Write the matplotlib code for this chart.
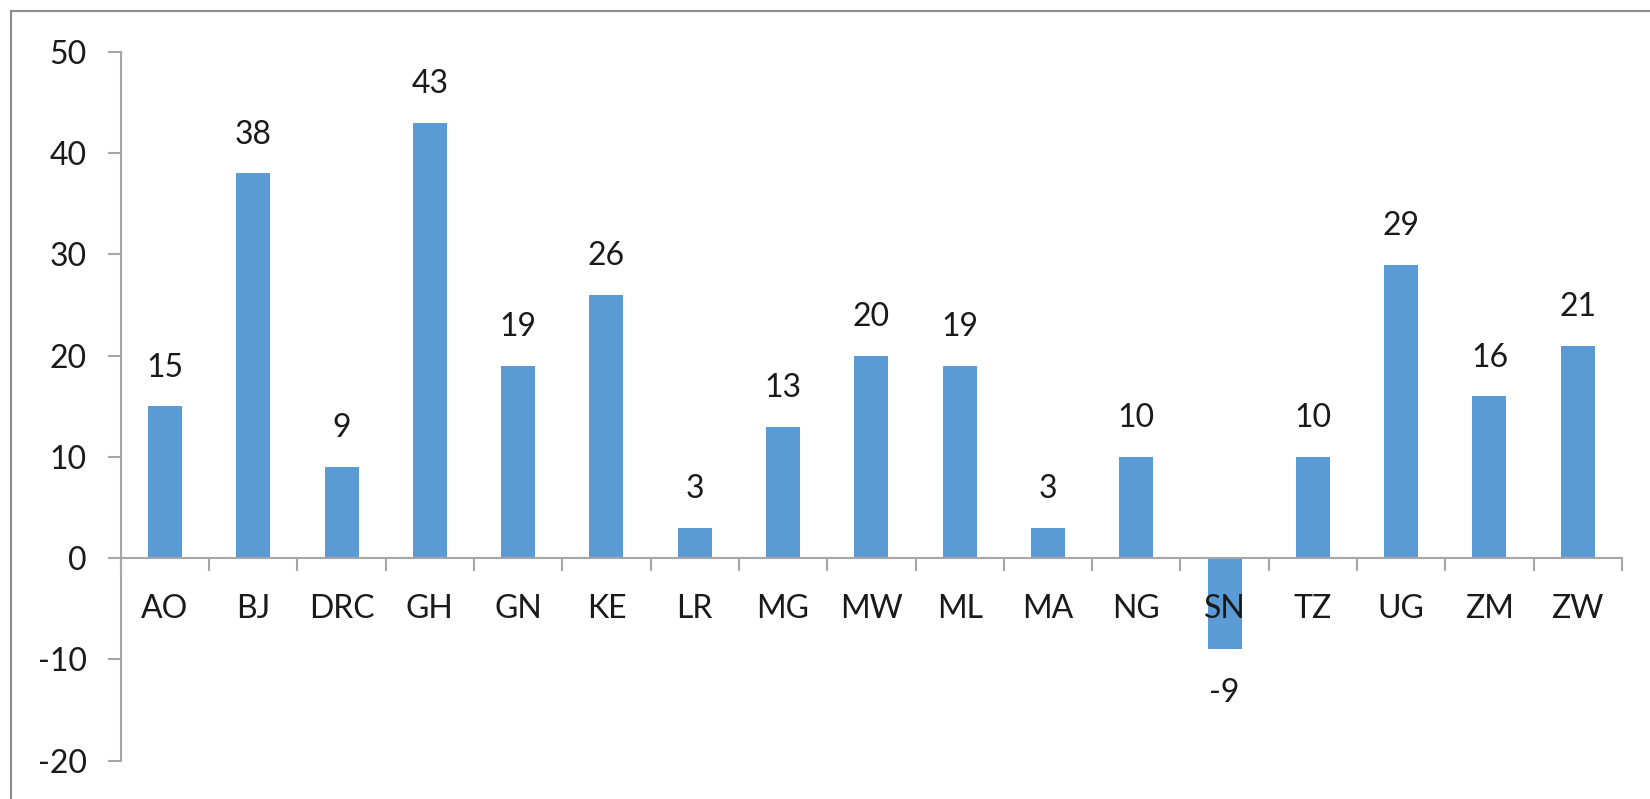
import matplotlib
matplotlib.use("Agg")
import matplotlib.pyplot as plt
from matplotlib.lines import Line2D
import numpy as np

countries = ["AO", "BJ", "DRC", "GH", "GN", "KE", "LR", "MG", "MW",
             "ML", "MA", "NG", "SN", "TZ", "UG", "ZM", "ZW"]
values = [15, 38, 9, 43, 19, 26, 3, 13, 20, 19, 3, 10, -9, 10, 29, 16, 21]

plt.rcParams['font.family'] = ['Lato', 'DejaVu Sans']
plt.rcParams['axes.unicode_minus'] = False

fig = plt.figure(figsize=(16.5, 7.99), dpi=100)
ax = fig.add_axes([0.0732, 0.048, 0.9098, 0.887])

x = np.arange(len(countries))
bars = ax.bar(x, values, width=0.385, color="#5B9BD5", zorder=1)

ax.set_xlim(-0.5, len(countries) - 0.5)
ax.set_ylim(-20, 50)
ax.set_yticks(np.arange(-20, 51, 10))

axis_grey = "#A6A6A6"
for s in ["top", "right"]:
    ax.spines[s].set_visible(False)
ax.spines["bottom"].set_position(("data", 0))
ax.spines["bottom"].set_color(axis_grey)
ax.spines["left"].set_color(axis_grey)
ax.spines["bottom"].set_linewidth(1.5)
ax.spines["left"].set_linewidth(1.5)

# category labels at centres, tick marks between categories
ax.set_xticks(x)
ax.set_xticklabels(countries)
ax.set_xticks(np.arange(-0.5, len(countries), 1.0), minor=True)
ax.tick_params(axis="x", which="major", length=0, pad=26, labelsize=23,
               labelcolor="#1a1a1a")
ax.tick_params(axis="x", which="minor", length=9.5, width=1.5,
               color=axis_grey, direction="out")
ax.tick_params(axis="y", length=9.5, width=1.5, color=axis_grey,
               pad=15, labelsize=23, labelcolor="#1a1a1a")
ax.xaxis.set_zorder(3)

for xi, v in zip(x, values):
    if v >= 0:
        ax.annotate(str(v), (xi, v), xytext=(0, 17), textcoords="offset points",
                    ha="center", va="bottom", fontsize=23, color="#1a1a1a")
    else:
        ax.annotate(str(v), (xi, v), xytext=(0, -21), textcoords="offset points",
                    ha="center", va="top", fontsize=23, color="#1a1a1a")

# outer chart frame (top and left edges visible)
fig.add_artist(Line2D([11 / 1650, 1.0], [1 - 11 / 799, 1 - 11 / 799],
                      transform=fig.transFigure, color="#8C8C8C", lw=1.5))
fig.add_artist(Line2D([11 / 1650, 11 / 1650], [0.0, 1 - 11 / 799],
                      transform=fig.transFigure, color="#8C8C8C", lw=1.5))

fig.savefig("out.png", dpi=100)
